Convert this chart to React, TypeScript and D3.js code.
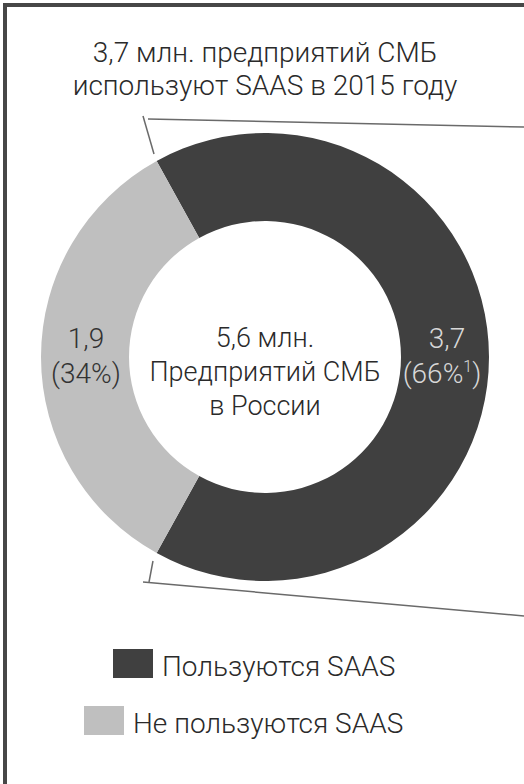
import React, { useEffect, useRef } from 'react';
import * as d3 from 'd3';

// chart data
const categories = ['Пользуются SAAS', 'Не пользуются SAAS'];
const values = [3.7, 1.9];
const valueLabels = ['3,7', '1,9'];
const shareLabels = ['(66%', '(34%)'];
const colors = ['#404040', '#bfbfbf'];
const titleLines = ['3,7 млн. предприятий СМБ', 'используют SAAS в 2015 году'];
const centerLines = ['5,6 млн.', 'Предприятий СМБ', 'в России'];

const W = 524;
const H = 784;

const App: React.FC = () => {
  const svgRef = useRef<SVGSVGElement>(null);

  useEffect(() => {
    if (!svgRef.current) return;
    const svg = d3.select(svgRef.current);
    svg.selectAll('*').remove();

    const font = 'Roboto, "Noto Sans", sans-serif';
    const cx = 265;
    const cy = 357;
    const outerR = 224;
    const innerR = 136;

    svg.append('rect').attr('width', W).attr('height', H).attr('fill', '#fff');

    // frame (only top and left edges visible in crop)
    svg.append('rect')
      .attr('x', 5).attr('y', 5)
      .attr('width', 700).attr('height', 1000)
      .attr('fill', 'none')
      .attr('stroke', '#474747')
      .attr('stroke-width', 4);

    // title
    svg.append('g')
      .selectAll('text')
      .data(titleLines)
      .join('text')
      .attr('x', cx)
      .attr('y', (_, i) => 62 + i * 33)
      .attr('text-anchor', 'middle')
      .attr('font-family', font)
      .attr('font-weight', 300)
      .attr('font-size', 28)
      .attr('fill', '#2a2a2a')
      .text(d => d);

    const total = d3.sum(values);
    const darkAngle = (2 * Math.PI * values[0]) / total;
    const start = Math.PI / 2 - darkAngle / 2;

    const pie = d3.pie<number>()
      .sort(null)
      .value(d => d)
      .startAngle(start)
      .endAngle(start + 2 * Math.PI);
    const arc = d3.arc<d3.PieArcDatum<number>>()
      .innerRadius(innerR)
      .outerRadius(outerR);

    const g = svg.append('g').attr('transform', `translate(${cx},${cy})`);
    const arcs = pie(values);

    g.selectAll('path')
      .data(arcs)
      .join('path')
      .attr('d', arc)
      .attr('fill', (_, i) => colors[i]);

    // bracket lines pointing to the title
    const lineColor = '#6a6a6a';
    const brackets: [number, number, number, number][] = [
      [-122, -241, -111, -203],
      [-117, -238, W - cx, -230],
      [-112, 204, -116, 225],
      [-122, 225, W - cx, 259],
    ];
    g.selectAll('line.br')
      .data(brackets)
      .join('line')
      .attr('class', 'br')
      .attr('x1', d => d[0]).attr('y1', d => d[1])
      .attr('x2', d => d[2]).attr('y2', d => d[3])
      .attr('stroke', lineColor)
      .attr('stroke-width', 1.5);

    // slice labels
    const labelArc = d3.arc<d3.PieArcDatum<number>>()
      .innerRadius((innerR + outerR) / 2)
      .outerRadius((innerR + outerR) / 2);
    const labelColors = ['#d8d8d8', '#333'];
    arcs.forEach((a, i) => {
      const [lx] = labelArc.centroid(a);
      const t = g.append('text')
        .attr('text-anchor', 'middle')
        .attr('font-family', font)
        .attr('font-weight', 300)
        .attr('font-size', 28)
        .attr('fill', labelColors[i]);
      t.append('tspan').attr('x', lx + (i === 0 ? 2 : 1)).attr('y', -9).text(valueLabels[i]);
      t.append('tspan').attr('x', lx - (i === 0 ? 3 : -1)).attr('y', 26).text(shareLabels[i]);
      if (i === 0) {
        t.append('tspan').attr('font-size', 16).attr('dy', -11).text('1');
        t.append('tspan').attr('dy', 11).text(')');
      }
    });

    // center text
    g.append('g')
      .selectAll('text')
      .data(centerLines)
      .join('text')
      .attr('x', 0)
      .attr('y', (_, i) => -10 + i * 34)
      .attr('text-anchor', 'middle')
      .attr('font-family', font)
      .attr('font-weight', 300)
      .attr('font-size', 27)
      .attr('fill', '#2a2a2a')
      .text(d => d);

    // legend
    const legendRows = [
      { rx: 113, y: 649 },
      { rx: 84, y: 706 },
    ];
    categories.forEach((c, i) => {
      const row = legendRows[i];
      svg.append('rect')
        .attr('x', row.rx).attr('y', row.y)
        .attr('width', 40).attr('height', 29)
        .attr('fill', colors[i]);
      svg.append('text')
        .attr('x', row.rx + 49)
        .attr('y', row.y + 27)
        .attr('font-family', font)
        .attr('font-weight', 300)
        .attr('font-size', 28)
        .attr('fill', '#2a2a2a')
        .text(c);
    });
  }, []);

  return (
    <svg
      ref={svgRef}
      width={W}
      height={H}
      style={{ position: 'absolute', left: 0, top: 0, display: 'block' }}
    />
  );
};

export default App;
